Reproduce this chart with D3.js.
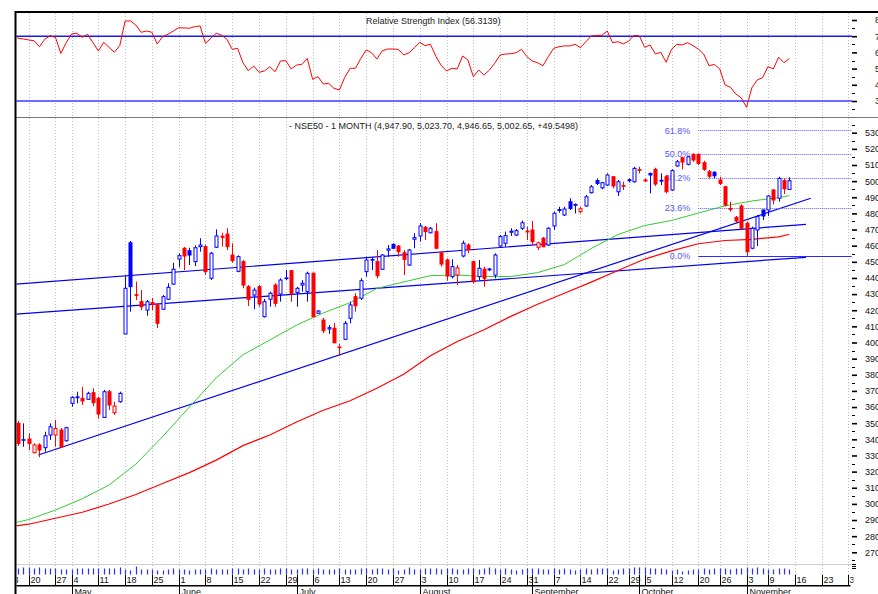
<!DOCTYPE html>
<html>
<head>
<meta charset="utf-8">
<script src="https://cdn.jsdelivr.net/npm/d3@7"></script>
<style>
  body { margin: 0; background: #fff; }
  svg { display: block; font-family: "Liberation Sans", Arial, sans-serif; }
</style>
</head>
<body>
<div id="chart"></div>
<script>
// trading-day index: 0 = Apr 20 (2009), one step per session
const firstDay = -2;
const priorClose = 3500;
// [open, high, low, close]
const candles = [
  [3499,3514,3359,3375],[3394,3499,3354,3398],[3402,3437,3334,3375],[3317,3375,3313,3365],[3365,3375,3289,3334],
  [3348,3447,3323,3422],[3427,3499,3396,3478],[3427,3520,3354,3468],[3458,3470,3346,3354],[3391,3478,3385,3472],
  [3623,3668,3602,3660],[3658,3695,3623,3663],[3654,3726,3613,3638],[3648,3695,3644,3685],[3689,3716,3606,3627],
  [3654,3664,3530,3557],[3536,3706,3534,3695],[3695,3706,3582,3613],[3565,3633,3551,3606],[3633,3695,3627,3685],
  [4053,4412,4053,4336],[4618,4629,4191,4346],[4296,4377,4263,4292],[4253,4325,4201,4222],[4201,4263,4166,4253],
  [4247,4276,4201,4237],[4233,4245,4090,4119],[4206,4294,4201,4284],[4268,4367,4263,4342],[4362,4494,4356,4454],
  [4517,4553,4466,4538],[4584,4592,4449,4536],[4569,4587,4480,4542],[4501,4601,4474,4587],[4594,4646,4563,4604],
  [4594,4604,4418,4439],[4398,4561,4387,4553],[4590,4701,4585,4660],[4658,4680,4594,4652],[4672,4708,4573,4594],
  [4542,4615,4494,4507],[4441,4540,4435,4532],[4501,4511,4336,4356],[4346,4356,4226,4268],[4294,4340,4206,4325],
  [4346,4356,4222,4239],[4160,4270,4155,4253],[4268,4315,4222,4305],[4356,4367,4222,4243],[4300,4398,4253,4387],
  [4396,4449,4387,4400],[4445,4449,4253,4305],[4309,4345,4222,4336],[4356,4387,4315,4367],[4315,4439,4253,4429],
  [4429,4434,4155,4160],[4181,4201,4177,4195],[4139,4152,4057,4073],[4084,4108,4053,4092],[4088,4121,3994,3999],
  [3972,3991,3916,3968],[4020,4133,4014,4119],[4150,4253,4119,4233],[4284,4305,4191,4228],[4274,4398,4263,4383],
  [4439,4532,4408,4511],[4510,4530,4449,4514],[4501,4573,4398,4414],[4454,4548,4449,4542],[4572,4604,4532,4580],
  [4608,4615,4580,4584],[4598,4604,4532,4563],[4556,4573,4418,4515],[4480,4580,4474,4573],[4640,4677,4584,4650],
  [4660,4739,4625,4722],[4714,4722,4635,4687],[4680,4716,4676,4708],[4687,4739,4578,4584],[4556,4563,4470,4486],
  [4511,4522,4383,4412],[4408,4516,4398,4470],[4418,4480,4356,4462],[4536,4631,4528,4615],[4604,4615,4553,4577],
  [4501,4507,4367,4377],[4408,4511,4387,4460],[4454,4470,4346,4398],[4450,4462,4442,4456],[4418,4553,4398,4542],
  [4598,4666,4590,4656],[4615,4687,4594,4662],[4683,4708,4660,4690],[4666,4703,4660,4693],[4708,4755,4697,4742],
  [4690,4718,4635,4685],[4697,4753,4604,4625],[4590,4625,4573,4618],[4646,4654,4590,4594],[4604,4714,4598,4708],
  [4722,4811,4697,4801],[4818,4841,4804,4824],[4790,4841,4784,4827],[4872,4894,4821,4830],[4850,4862,4800,4855],
  [4811,4841,4800,4829],[4846,4914,4840,4903],[4928,4976,4924,4965],[5003,5017,4976,4986],[4958,4995,4950,4990],
  [4976,5048,4970,5038],[5027,5031,4955,4970],[4934,5007,4908,4996],[4972,4996,4945,4968],[5008,5017,4991,5003],
  [4996,5089,4991,5079],[5071,5089,5048,5067],[5007,5017,4995,5001],[5048,5052,4924,5038],[5073,5083,4970,4982],
  [5005,5048,4976,5000],[5027,5038,4924,4934],[4945,5073,4939,5065],[5094,5131,5088,5120],[5145,5151,5073,5118],
  [5104,5156,5098,5151],[5166,5172,5120,5131],[5166,5171,5100,5110],[5114,5126,5063,5073],[5058,5069,5017,5030],
  [5055,5060,5017,5033],[5007,5027,4976,4986],[4965,4970,4842,4852],[4830,4872,4811,4825],[4776,4784,4739,4753],
  [4846,4856,4697,4708],[4739,4749,4532,4563],[4584,4718,4578,4708],[4697,4790,4598,4780],[4821,4825,4759,4784],
  [4821,4914,4784,4908],[4945,4951,4856,4883],[4894,5027,4873,5017],[5003,5017,4920,4953],[4947.90,5023.70,4946.65,5002.65]
];
const volumes = [
  6,7,7,6,7,6,6,6,5,5,
  5,6,6,6,6,6,6,6,6,7,
  5,4,8,5,5,5,4,4,5,6,
  5,5,4,5,5,5,6,5,5,5,6,6,5,6,5,5,6,5,5,6,6,5,
  5,6,6,5,6,5,5,5,6,5,5,5,6,6,5,6,6,5,6,4,5,7,5,
  5,6,6,6,5,6,6,5,5,6,6,5,6,7,6,5,6,5,4,5,6,
  6,6,5,5,6,5,6,5,4,5,6,5,6,6,6,4,5,6,6,7,
  7,7,6,6,6,5,4,5,3,4,5,5,6,5,6,6,6,5,6,6,
  7,6,7,6,5,5,6,6,5
];
const rsiFirstDay = -3;
const rsiValues = [
  72.2,68.7,68.3,67.7,67.2,63.5,68.1,70.3,69.3,59.4,66,71.4,71.8,69.3,71.2,66,60.9,66.2,63.1,60.1,64.2,
  79.4,79.4,76.9,72.4,73.2,72.4,65.2,69.7,71.2,73.2,75.2,75.1,74.9,75.9,76.3,65.6,68.7,71.8,70.7,68.1,
  61.9,62.5,53.6,48.7,51.6,47.7,48.5,51.2,48.1,54.7,54.9,49.8,52.2,52.6,56.3,43.4,45,40.5,40.9,37.8,
  36.8,44.6,50.2,50.2,56.3,61.5,59.8,55.9,61,62.1,62.1,61.9,58.4,59.8,62.9,66.2,64.2,65,57.6,52,
  48.5,50.2,49.8,57.8,55.3,45,49.1,46,49.1,53.3,58.4,59,59.2,59.8,61.9,57.4,54.7,53.6,51.8,57.4,
  62.5,63.5,64,64,65,62.9,66.6,70.1,70.5,70.5,73.2,66,66.6,65.2,67,70.5,70.1,63.1,64.6,59,
  60.1,53.9,61.9,65,64.6,66,64.2,62.1,59,51.8,52.6,49.8,39.9,38.5,34.3,32,26.1,38.2,43,44.4,
  51.2,49.8,57,53.6,56.3
];
const rsiLast = "56.3139";
const maDays = [-3,0,5,10,15,20,25,30,35,40,45,50,55,60,65,70,75,80,85,90,95,100,105,110,115,120,125,130,135,140,142];
const maShort = [2880,2903,2962,3032,3117,3246,3417,3600,3781,3924,4015,4108,4183,4247,4335,4375,4414,4418,4409,4409,
  4433,4483,4582,4669,4725,4756,4802,4847,4877,4898,4910];
const maLong = [2861,2874,2911,2948,2999,3058,3126,3194,3271,3361,3427,3507,3580,3639,3717,3803,3918,4006,4079,4162,
  4237,4305,4374,4446,4517,4568,4612,4632,4639,4655,4671];
// trend lines: [day, price] end points
const channelTop = [[-2.6, 4361], [145.1, 4732]];
const channelBottom = [[-2.6, 4175], [145.1, 4528]];
const riseLine = [[1.8, 3303], [146, 4894]];
// fibonacci
const fibLow = 4538, fibRange = 1258, fibStart = 125, fibEnd = 153.6;
const fibLevels = [0, 0.236, 0.382, 0.5, 0.618];
const fibLabels = ["0.0%", "23.6%", "38.2%", "50.0%", "61.8%"];
// x axis
const weekTicks = [["13",-4],["20",0],["27",5],["4",8],["11",13],["18",18],["25",23],["1",28],["8",33],["15",38],
  ["22",43],["29",48],["6",53],["13",58],["20",63],["27",68],["3",73],["10",78],["17",83],["24",88],["31",93],
  ["7",98],["14",103],["22",108],["29",112],["5",115],["12",120],["20",125],["26",129],["3",134],["9",138],
  ["16",143],["23",148],["30",153]];
const months = [["May",8],["June",28],["July",50],["August",73],["September",94],["October",114],["November",134]];
const title = "- NSE50 - 1 MONTH (4,947.90, 5,023.70, 4,946.65, 5,002.65, +49.5498)";

const W = 878, H = 594;
const left = 15, plotRight = 852, rsiTop = 12, rsiBottom = 117, volTop = 564.5, labelTop = 574.5, monthLine = 585.7;

const x = d3.scaleLinear().domain([0, 153]).range([28.7, 848.3]);
const y = d3.scaleLinear().domain([2700, 5300]).range([552.3, 132.7]);
const yRsi = d3.scaleLinear().domain([30, 80]).range([101, 20]);
const yVol = d3.scaleLinear().domain([0, 10]).range([574.5, 564.5]);

const BLUE = "#0000ff", RED = "#ff0000";

const svg = d3.select("#chart").append("svg").attr("width", W).attr("height", H);
svg.append("rect").attr("width", W).attr("height", H).attr("fill", "#fff");

const defs = svg.append("defs");
defs.append("clipPath").attr("id", "clipMain").append("rect")
  .attr("x", left + 1.5).attr("y", rsiBottom + 1).attr("width", plotRight - left - 1.5).attr("height", volTop - rsiBottom - 1);
defs.append("clipPath").attr("id", "clipRsi").append("rect")
  .attr("x", left + 1.5).attr("y", rsiTop + 1).attr("width", plotRight - left - 1.5).attr("height", rsiBottom - rsiTop - 1);
defs.append("clipPath").attr("id", "clipAxis").append("rect")
  .attr("x", left + 1.5).attr("y", labelTop).attr("width", plotRight - left).attr("height", H - labelTop);

// vertical dotted grid
svg.append("g").selectAll("line").data(weekTicks.filter(d => x(d[1]) > left + 2)).join("line")
  .attr("x1", d => Math.round(x(d[1])) + 0.5).attr("x2", d => Math.round(x(d[1])) + 0.5)
  .attr("y1", rsiTop + 1).attr("y2", labelTop)
  .attr("stroke", "#bdbdbd").attr("stroke-dasharray", "1,2");

// ---- RSI panel
const rsiG = svg.append("g").attr("clip-path", "url(#clipRsi)");
rsiG.append("line").attr("x1", left).attr("x2", plotRight).attr("y1", yRsi(70)).attr("y2", yRsi(70))
  .attr("stroke", "#1a1aee").attr("stroke-width", 1.4);
rsiG.append("line").attr("x1", left).attr("x2", plotRight).attr("y1", yRsi(30)).attr("y2", yRsi(30))
  .attr("stroke", "#6a6aff").attr("stroke-width", 2);
rsiG.append("path")
  .datum(rsiValues.map((v, k) => [rsiFirstDay + k, v]))
  .attr("fill", "none").attr("stroke", RED).attr("stroke-width", 1)
  .attr("d", d3.line().x(d => x(d[0])).y(d => yRsi(d[1])));
svg.append("text").attr("x", 366).attr("y", 24).attr("font-size", 9).attr("fill", "#222")
  .text("Relative Strength Index (" + rsiLast + ")");

// ---- main panel
const mainG = svg.append("g").attr("clip-path", "url(#clipMain)");
const trend = d3.line().x(d => x(d[0])).y(d => y(d[1]));
[channelTop, channelBottom, riseLine].forEach(t => {
  mainG.append("path").datum(t).attr("d", trend).attr("fill", "none")
    .attr("stroke", "#0000ee").attr("stroke-width", 1.2);
});
const maLine = d3.line().x(d => x(d[0])).y(d => y(d[1]));
mainG.append("path").datum(maDays.map((d, k) => [d, maShort[k]])).attr("d", maLine)
  .attr("fill", "none").attr("stroke", "#33cc33").attr("stroke-width", 1);
mainG.append("path").datum(maDays.map((d, k) => [d, maLong[k]])).attr("d", maLine)
  .attr("fill", "none").attr("stroke", RED).attr("stroke-width", 1.2);

// fibonacci levels
const fib = fibLevels.map((r, k) => ({ p: fibLow + r * fibRange, label: fibLabels[k], r }));
mainG.selectAll("line.fib").data(fib).join("line").attr("class", "fib")
  .attr("x1", x(fibStart)).attr("x2", x(fibEnd))
  .attr("y1", d => Math.round(y(d.p)) + 0.5).attr("y2", d => Math.round(y(d.p)) + 0.5)
  .attr("stroke", d => d.r === 0 ? "#2a2aff" : "#5a5aff")
  .attr("stroke-width", d => d.r === 0 ? 1.2 : 1)
  .attr("stroke-dasharray", d => d.r === 0 ? null : "1,1");
mainG.selectAll("text.fib").data(fib).join("text").attr("class", "fib")
  .attr("x", x(fibStart) - 8).attr("y", d => y(d.p) + 3.3)
  .attr("text-anchor", "end").attr("font-size", 9).attr("fill", "#5555ff")
  .text(d => d.label);

// candles
const cd = candles.map((c, k) => ({
  i: firstDay + k, o: c[0], h: c[1], l: c[2], c: c[3],
  prev: k ? candles[k - 1][3] : priorClose
}));
const cx = d => Math.round(x(d.i)) + 0.5;
const col = d => d.c >= d.prev ? BLUE : RED;
const cg = mainG.append("g");
cg.selectAll("line").data(cd).join("line")
  .attr("x1", cx).attr("x2", cx).attr("y1", d => y(d.h)).attr("y2", d => y(d.l))
  .attr("stroke", col).attr("stroke-width", 1);
cg.selectAll("rect").data(cd).join("rect")
  .attr("x", d => cx(d) - 1.5).attr("width", 3)
  .attr("y", d => y(Math.max(d.o, d.c)))
  .attr("height", d => Math.max(0.6, Math.abs(y(d.o) - y(d.c))))
  .attr("fill", d => d.c > d.o ? "#fff" : col(d))
  .attr("stroke", col).attr("stroke-width", 1);

svg.append("text").attr("x", 289).attr("y", 128.7).attr("font-size", 9).attr("fill", "#222").text(title);

// volume
svg.append("line").attr("x1", left).attr("x2", plotRight).attr("y1", volTop).attr("y2", volTop)
  .attr("stroke", "#cfcfcf");
svg.append("g").selectAll("line").data(volumes.map((v, k) => [firstDay + k, v])).join("line")
  .attr("x1", d => Math.round(x(d[0])) + 0.5).attr("x2", d => Math.round(x(d[0])) + 0.5)
  .attr("y1", yVol(0)).attr("y2", d => yVol(d[1]))
  .attr("stroke", "#2f2fff").attr("stroke-width", 1.2);

// frame
svg.append("line").attr("x1", left).attr("x2", W).attr("y1", rsiTop).attr("y2", rsiTop)
  .attr("stroke", "#000").attr("stroke-width", 2);
svg.append("line").attr("x1", left).attr("x2", W).attr("y1", rsiBottom + 0.5).attr("y2", rsiBottom + 0.5)
  .attr("stroke", "#777").attr("stroke-width", 1);
svg.append("line").attr("x1", left + 0.5).attr("x2", left + 0.5).attr("y1", rsiTop - 1).attr("y2", H)
  .attr("stroke", "#000").attr("stroke-width", 2);

// right price axis
const priceAxis = svg.append("g").attr("transform", `translate(852,0)`)
  .call(d3.axisRight(y).tickValues(d3.range(2700, 5301, 100)).tickSize(5).tickPadding(8).tickFormat(d3.format("d")));
priceAxis.select(".domain").remove();
priceAxis.selectAll(".tick line").attr("stroke", "#000").attr("stroke-width", 1.6);
priceAxis.selectAll(".tick text").attr("font-size", 9).attr("fill", "#111")
  .attr("font-family", "Liberation Sans, Arial, sans-serif");
svg.append("g").selectAll("line").data(d3.range(2650, 5351, 100)).join("line")
  .attr("x1", 852).attr("x2", 855).attr("y1", d => Math.round(y(d)) + 0.5).attr("y2", d => Math.round(y(d)) + 0.5)
  .attr("stroke", "#000");
svg.append("g").selectAll("line").data([564.5, 566.5, 568.5]).join("line")
  .attr("x1", 852).attr("x2", 856).attr("y1", d => d).attr("y2", d => d).attr("stroke", "#000");

// right RSI axis
const rsiAxis = svg.append("g").attr("transform", `translate(852,0)`)
  .call(d3.axisRight(yRsi).tickValues(d3.range(30, 81, 10)).tickSize(5).tickPadding(18).tickFormat(d3.format("d")));
rsiAxis.select(".domain").remove();
rsiAxis.selectAll(".tick line").attr("stroke", "#000").attr("stroke-width", 1.6);
rsiAxis.selectAll(".tick text").attr("font-size", 9).attr("fill", "#111")
  .attr("font-family", "Liberation Sans, Arial, sans-serif");
svg.append("g").selectAll("line").data(d3.range(25, 80, 10)).join("line")
  .attr("x1", 852).attr("x2", 855).attr("y1", d => Math.round(yRsi(d)) + 0.5).attr("y2", d => Math.round(yRsi(d)) + 0.5)
  .attr("stroke", "#000");

// bottom date axis
const axG = svg.append("g").attr("clip-path", "url(#clipAxis)");
axG.append("line").attr("x1", left).attr("x2", plotRight - 1.5).attr("y1", monthLine).attr("y2", monthLine)
  .attr("stroke", "#000").attr("stroke-width", 1.5);
axG.selectAll("line.wk").data(weekTicks).join("line").attr("class", "wk")
  .attr("x1", d => Math.round(x(d[1])) + 0.5).attr("x2", d => Math.round(x(d[1])) + 0.5)
  .attr("y1", labelTop).attr("y2", monthLine).attr("stroke", "#000");
axG.selectAll("text.wk").data(weekTicks).join("text").attr("class", "wk")
  .attr("x", d => Math.round(x(d[1])) + 1.5).attr("y", 583.3)
  .attr("font-size", 9).attr("fill", "#111").text(d => d[0]);
axG.selectAll("line.mo").data(months).join("line").attr("class", "mo")
  .attr("x1", d => Math.round(x(d[1])) + 0.5).attr("x2", d => Math.round(x(d[1])) + 0.5)
  .attr("y1", labelTop).attr("y2", H).attr("stroke", "#000");
axG.selectAll("text.mo").data(months).join("text").attr("class", "mo")
  .attr("x", d => Math.round(x(d[1])) + 2.5).attr("y", 594.5)
  .attr("font-size", 9).attr("fill", "#111").text(d => d[0]);
</script>
</body>
</html>
